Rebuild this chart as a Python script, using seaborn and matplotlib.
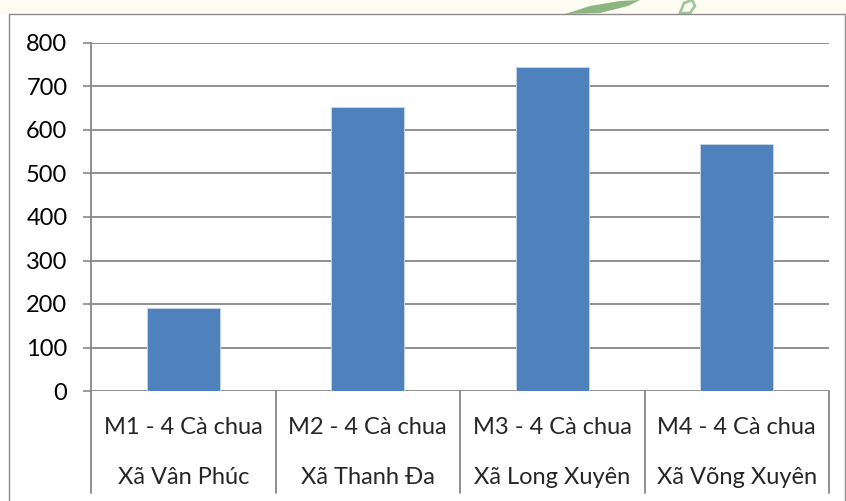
import matplotlib
matplotlib.use("Agg")
import matplotlib.pyplot as plt
from matplotlib.lines import Line2D
from matplotlib.patches import Polygon
import seaborn as sns

# Data
sites = ["M1 - 4 Cà chua", "M2 - 4 Cà chua", "M3 - 4 Cà chua", "M4 - 4 Cà chua"]
communes = ["Xã Vân Phúc", "Xã Thanh Đa", "Xã Long Xuyên", "Xã Võng Xuyên"]
values = [191, 654, 744, 567]
y_ticks = [0, 100, 200, 300, 400, 500, 600, 700, 800]

sns.set_style("white")
plt.rcParams["font.family"] = ["Lato", "DejaVu Sans"]

W, H, DPI = 846, 501, 100
fig = plt.figure(figsize=(W / DPI, H / DPI), dpi=DPI)

# axes placement in pixels
ax_l, ax_r, ax_t, ax_b = 91, 829, 43, 391
ax = fig.add_axes([ax_l / W, 1 - ax_b / H, (ax_r - ax_l) / W, (ax_b - ax_t) / H])

grid_c = "#878787"
bar_c = "#4f81bd"
fs = 17

sns.barplot(x=list(range(len(values))), y=values, color=bar_c, saturation=1,
            width=0.396, edgecolor="#c3d3e8", linewidth=0.7, ax=ax, zorder=3)

ax.set_xlim(-0.5, len(values) - 0.5)
ax.set_ylim(y_ticks[0], y_ticks[-1])
ax.set_yticks(y_ticks)
ax.set_yticklabels([str(v) for v in y_ticks], fontsize=fs, color="#000000")
ax.set_xticks([])
ax.set_xlabel("")
ax.set_ylabel("")

ax.yaxis.grid(True, color=grid_c, linewidth=1.3, zorder=0)
ax.set_axisbelow(True)
ax.tick_params(axis="y", length=6, width=1.2, color=grid_c, pad=11, left=True)

for s in ["top", "right", "bottom"]:
    ax.spines[s].set_visible(False)
ax.spines["left"].set_color(grid_c)
ax.spines["left"].set_linewidth(1.3)

# two-row category axis with dividers
ah = ax_b - ax_t
xt = ax.get_xaxis_transform()
div_bottom = -(493 - ax_b) / ah
for xd in [i - 0.5 for i in range(len(values) + 1)]:
    ax.add_line(Line2D([xd, xd], [0, div_bottom], transform=xt, color=grid_c,
                       linewidth=1.3, clip_on=False))
row1 = -(427 - ax_b) / ah
row2 = -(477 - ax_b) / ah
for i, (s, c) in enumerate(zip(sites, communes)):
    ax.text(i, row1, s, transform=xt, ha="center", va="center", fontsize=fs)
    ax.text(i, row2, c, transform=xt, ha="center", va="center", fontsize=fs)

# chart frame
ft = fig.transFigure
def px(x, y):
    return x / W, 1 - y / H

fig.patches.append(Polygon([px(0, 0), px(W, 0), px(W, 14), px(0, 14)], closed=True,
                           transform=ft, facecolor="#fdfcf3", edgecolor="none", zorder=0))
for (x0, y0), (x1, y1) in [((9, 14), (845, 14)), ((9, 14), (9, 501)), ((845, 14), (845, 501))]:
    a, b = px(x0, y0), px(x1, y1)
    fig.lines.append(Line2D([a[0], b[0]], [a[1], b[1]], transform=ft, color="#8c8c8c", linewidth=1.0))

# faint leaf emblem above the frame
leaf = [px(565, 14), px(590, 6), px(620, 1), px(640, 0), px(628, 6), px(600, 13)]
fig.patches.append(Polygon(leaf, closed=True, transform=ft, facecolor="#7aa96b",
                           edgecolor="none", alpha=0.85, zorder=1))
curl = [px(680, 13), px(684, 3), px(692, 0), px(695, 6), px(690, 13)]
fig.patches.append(Polygon(curl, closed=True, transform=ft, facecolor="none",
                           edgecolor="#8fb884", linewidth=2, alpha=0.8, zorder=1))

fig.savefig("out.png", dpi=DPI)
